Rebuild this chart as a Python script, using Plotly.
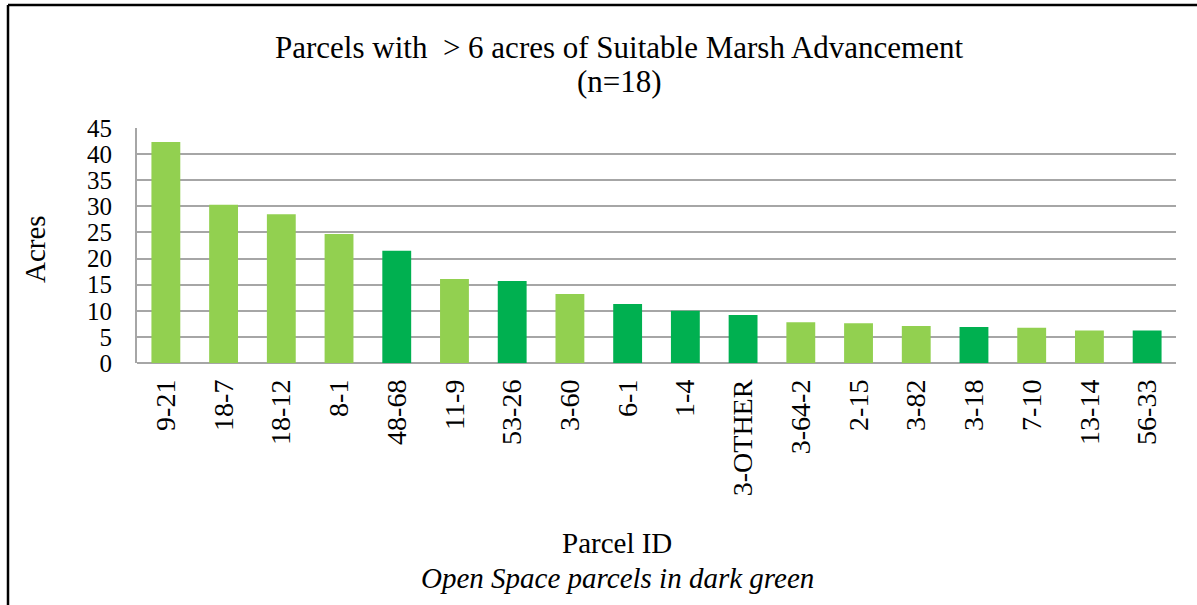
import plotly.graph_objects as go

parcels = ["9-21", "18-7", "18-12", "8-1", "48-68", "11-9", "53-26", "3-60", "6-1",
           "1-4", "3-OTHER", "3-64-2", "2-15", "3-82", "3-18", "7-10", "13-14", "56-33"]
acres = [42.3, 30.3, 28.5, 24.7, 21.5, 16.1, 15.7, 13.2, 11.3,
         10.0, 9.2, 7.8, 7.6, 7.1, 6.9, 6.75, 6.2, 6.2]
open_space = [False, False, False, False, True, False, True, False, True,
              True, True, False, False, False, True, False, False, True]

LIGHT = "#92D050"
DARK = "#00B050"
colors = [DARK if o else LIGHT for o in open_space]

W, H = 1197, 605
L, R, T, B = 137, 1176, 128, 363
FONT = "Liberation Serif"


def px(x):
    return (x - L) / (R - L)


def py(y):
    return (B - y) / (B - T)


fig = go.Figure(go.Bar(x=parcels, y=acres, marker=dict(color=colors, line=dict(width=0)),
                       hoverinfo="x+y"))

fig.update_layout(
    width=W, height=H,
    margin=dict(l=L, r=W - R, t=T, b=H - B),
    paper_bgcolor="white", plot_bgcolor="white",
    bargap=0.5,
    showlegend=False,
    font=dict(family=FONT, color="black"),
)

fig.update_xaxes(
    type="category", tickangle=-90, tickfont=dict(size=28, family=FONT),
    showgrid=False, showline=False, ticks="", ticklabelstandoff=10,
)
fig.update_yaxes(
    range=[0, 45], dtick=5, tickfont=dict(size=25, family=FONT),
    showgrid=True, gridcolor="#A6A6A6", gridwidth=2,
    showline=True, linecolor="#A6A6A6", linewidth=2,
    zeroline=True, zerolinecolor="#A6A6A6", zerolinewidth=2,
    ticks="", ticklabelstandoff=18,
)

anns = [
    dict(text="Parcels with&nbsp; > 6 acres of Suitable Marsh Advancement", x=px(619), y=py(47), size=31),
    dict(text="(n=18)", x=px(619), y=py(82), size=31),
    dict(text="Parcel ID", x=px(617), y=py(543), size=29),
    dict(text="<i>Open Space parcels in dark green</i>", x=px(617), y=py(578), size=29),
]
for a in anns:
    fig.add_annotation(text=a["text"], x=a["x"], y=a["y"], xref="paper", yref="paper",
                       showarrow=False, xanchor="center", yanchor="middle",
                       font=dict(size=a["size"], family=FONT, color="black"))

fig.add_annotation(text="Acres", x=px(35), y=py(249), xref="paper", yref="paper",
                   showarrow=False, textangle=-90, xanchor="center", yanchor="middle",
                   font=dict(size=29, family=FONT, color="black"))

# outer border (left and top edges)
fig.add_shape(type="line", xref="paper", yref="paper", x0=px(8), x1=px(8), y0=py(5), y1=py(610),
              line=dict(color="black", width=2.5))
fig.add_shape(type="line", xref="paper", yref="paper", x0=px(8), x1=px(1200), y0=py(5), y1=py(5),
              line=dict(color="black", width=2.5))

fig.write_html("out.html", config={"displayModeBar": False},
               post_script="document.body.style.margin='0';document.body.style.overflow='hidden';")
